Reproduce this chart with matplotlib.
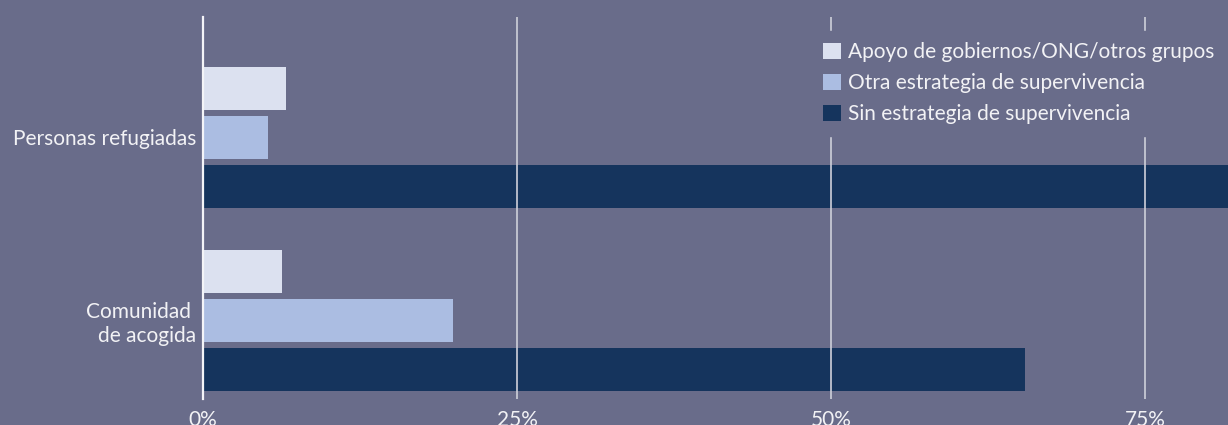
import matplotlib.pyplot as plt
import numpy as np

plt.rcParams['font.family'] = ['Lato', 'DejaVu Sans']

# data (percent)
categories = ["Personas refugiadas", "Comunidad \nde acogida"]
series_names = ["Apoyo de gobiernos/ONG/otros grupos",
                "Otra estrategia de supervivencia",
                "Sin estrategia de supervivencia"]
apoyo = [6.6, 6.3]
otra = [5.2, 19.9]
sin_estrategia = [88.0, 65.4]
x_ticks = [0, 25, 50, 75]
x_ticklabels = ["0%", "25%", "50%", "75%"]

bg = '#696c8a'
colors = ['#dce1f0', '#abbde2', '#15345d']
text_col = '#f2f2f5'
fs = 15

fig = plt.figure(figsize=(12.28, 4.25), dpi=100, facecolor=bg)
ax = fig.add_axes([203/1228, 1 - 399/425, 1 - 203/1228, (399 - 17)/425])
ax.set_facecolor(bg)

y = np.arange(len(categories))
step = 0.268
height = 0.235
for k, (vals, name) in enumerate(zip([apoyo, otra, sin_estrategia], series_names)):
    ax.barh(y + (k - 1)*step, vals, height=height, color=colors[k], label=name, zorder=1)

ax.set_xlim(0, 81.6)
ax.set_ylim(1.429, -0.658)
ax.set_xticks(x_ticks)
ax.set_xticklabels(x_ticklabels)
ax.set_yticks(y)
ax.set_yticklabels(categories)
ax.tick_params(axis='both', length=0, colors=text_col, labelsize=fs)
ax.tick_params(axis='x', pad=8)
ax.tick_params(axis='y', pad=5)

for s in ['top', 'right', 'bottom']:
    ax.spines[s].set_visible(False)
ax.spines['left'].set_color('#f4f4f8')
ax.spines['left'].set_linewidth(1.6)
ax.spines['left'].set_zorder(3)

# gridlines sit on top of the bars, legend box hides them
ax.set_axisbelow(False)
ax.grid(axis='x', color='#cfd0da', linewidth=1.2)
ax.grid(axis='y', visible=False)

leg = ax.legend(loc='upper left', bbox_to_anchor=(812/1228, 1 - 31/425),
                bbox_transform=fig.transFigure,
                frameon=True, facecolor=bg, edgecolor=bg, framealpha=1,
                fancybox=False, fontsize=fs, labelcolor=text_col,
                handlelength=0.82, handleheight=0.82, handletextpad=0.38,
                labelspacing=0.52, borderpad=0.55, borderaxespad=0)
leg.set_zorder(5)

fig.savefig('out.png', dpi=100, facecolor=bg)
